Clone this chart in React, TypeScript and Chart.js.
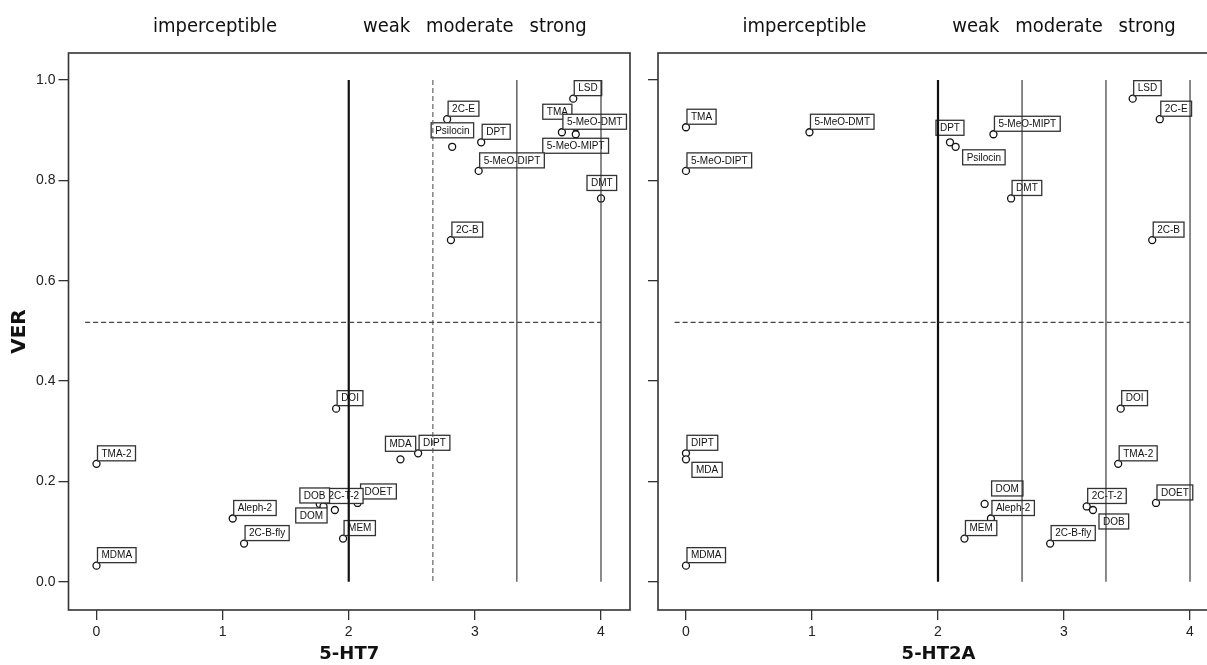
import React, { useEffect, useRef } from 'react';
import { Chart, registerables } from 'chart.js';

Chart.register(...registerables);

// ---- data ----
const COMPOUNDS = ['LSD', '2C-E', 'TMA', '5-MeO-DMT', '5-MeO-MIPT', 'DPT', 'Psilocin', '5-MeO-DIPT', 'DMT', '2C-B', 'DOI', 'DIPT', 'MDA', 'TMA-2', 'DOET', 'DOM', '2C-T-2', 'DOB', 'Aleph-2', 'MEM', '2C-B-fly', 'MDMA'];
const VER = [0.963, 0.922, 0.906, 0.896, 0.892, 0.876, 0.867, 0.819, 0.764, 0.681, 0.345, 0.256, 0.244, 0.235, 0.157, 0.155, 0.150, 0.143, 0.126, 0.086, 0.076, 0.032];
const HT7 = [3.78, 2.78, 3.80, 3.69, 3.80, 3.05, 2.82, 3.03, 4.00, 2.81, 1.90, 2.55, 2.41, 0, 2.07, 1.77, 1.80, 1.89, 1.08, 1.955, 1.17, 0];
const HT2A = [3.545, 3.76, 0, 0.98, 2.44, 2.095, 2.14, 0, 2.58, 3.70, 3.45, 0, 0, 3.43, 3.73, 2.37, 3.18, 3.23, 2.42, 2.21, 2.89, 0];

const X_TICKS = [0, 1, 2, 3, 4];
const Y_TICKS = [0, 0.2, 0.4, 0.6, 0.8, 1.0];
const THRESHOLDS = [2, 2.667, 3.333, 4];
const VER_CUTOFF = 0.517;
const CATEGORIES = ['imperceptible', 'weak', 'moderate', 'strong'];
const CATEGORY_CENTERS = [0.94, 2.30, 2.96, 3.66];

// label box placement (box left, box top) relative to point, in px
const DEFAULT_OFFSET: [number, number] = [1, -18];
const OFFSETS_HT7: Record<string, [number, number]> = {
  'Psilocin': [-21, -24],
  'DMT': [-14, -23],
  '5-MeO-MIPT': [-33, 4],
  'TMA': [-33, -23],
  'MDA': [-15, -23],
  'DOB': [-35, -22],
  'DOM': [-24, 4],
  'DOET': [3, -19],
};
const OFFSETS_HT2A: Record<string, [number, number]> = {
  'DPT': [-14, -22],
  'Psilocin': [7, 3],
  'MDA': [6, 3],
  'DOB': [6, 4],
  'DOM': [7, -23],
};

const SANS = '"Liberation Sans", Arial, sans-serif';
const DEJA = '"DejaVu Sans", Verdana, sans-serif';

function makeOverlay(xs: number[], offsets: Record<string, [number, number]>, dashedSecond: boolean) {
  return {
    id: 'overlay',
    afterDatasetsDraw(chart: any) {
      const { ctx, chartArea, scales } = chart;
      const x = scales.x, y = scales.y;
      ctx.save();
      // label boxes
      ctx.font = `10px ${SANS}`;
      ctx.textBaseline = 'middle';
      ctx.textAlign = 'left';
      COMPOUNDS.forEach((name, i) => {
        const px = x.getPixelForValue(xs[i]);
        const py = y.getPixelForValue(VER[i]);
        const off = offsets[name] || DEFAULT_OFFSET;
        const w = ctx.measureText(name).width + 8;
        const h = 15;
        const bx = px + off[0], by = py + off[1];
        ctx.fillStyle = '#ffffff';
        ctx.fillRect(bx, by, w, h);
        ctx.strokeStyle = '#333333';
        ctx.lineWidth = 1.3;
        ctx.strokeRect(bx, by, w, h);
        ctx.fillStyle = '#111111';
        ctx.fillText(name, bx + 4, by + h / 2 + 0.5);
      });
      // reference lines
      const y0 = y.getPixelForValue(0), y1 = y.getPixelForValue(1);
      THRESHOLDS.forEach((t, i) => {
        const px = x.getPixelForValue(t);
        const dashed = i === 1 && dashedSecond;
        ctx.beginPath();
        ctx.strokeStyle = i === 0 ? '#111111' : (dashed ? '#555555' : '#2a2a2a');
        ctx.lineWidth = i === 0 ? 2.2 : 1.1;
        ctx.setLineDash(dashed ? [5, 3] : []);
        ctx.moveTo(px, y1);
        ctx.lineTo(px, y0);
        ctx.stroke();
      });
      const hy = y.getPixelForValue(VER_CUTOFF);
      ctx.beginPath();
      ctx.strokeStyle = '#444444';
      ctx.lineWidth = 1.1;
      ctx.setLineDash([5, 3]);
      ctx.moveTo(x.getPixelForValue(-0.09), hy);
      ctx.lineTo(x.getPixelForValue(4.0), hy);
      ctx.stroke();
      ctx.setLineDash([]);
      // frame
      ctx.strokeStyle = '#333333';
      ctx.lineWidth = 1.6;
      ctx.strokeRect(chartArea.left, chartArea.top, chartArea.right - chartArea.left, chartArea.bottom - chartArea.top);
      // category labels
      ctx.fillStyle = '#111111';
      ctx.font = `20px "DejaVu Sans Condensed", ${DEJA}`;
      try { (ctx as any).fontStretch = 'condensed'; } catch (e) { /* ignore */ }
      ctx.textAlign = 'center';
      ctx.textBaseline = 'alphabetic';
      CATEGORIES.forEach((c, i) => {
        ctx.fillText(c, x.getPixelForValue(CATEGORY_CENTERS[i]), 31.5);
      });
      ctx.restore();
    },
  };
}

function buildConfig(xs: number[], title: string, offsets: Record<string, [number, number]>, dashedSecond: boolean, showYLabels: boolean, yWidth: number, rightPad: number): any {
  return {
    type: 'scatter',
    data: {
      datasets: [{
        data: xs.map((v, i) => ({ x: v, y: VER[i] })),
        pointRadius: 3.5,
        pointBorderWidth: 1.3,
        pointBorderColor: '#111111',
        pointBackgroundColor: '#ffffff',
        pointHoverRadius: 3.5,
        showLine: false,
      }],
    },
    options: {
      responsive: false,
      animation: false,
      events: [],
      layout: { padding: { left: 0, right: rightPad, top: 53, bottom: 0 } },
      plugins: { legend: { display: false }, tooltip: { enabled: false } },
      scales: {
        x: {
          type: 'linear',
          min: -0.222,
          max: 4.23,
          afterFit: (s: any) => { s.height = 55; },
          afterBuildTicks: (s: any) => { s.ticks = X_TICKS.map(v => ({ value: v })); },
          grid: { drawOnChartArea: false, drawTicks: true, tickLength: 10, color: '#333333', lineWidth: 1.3 },
          border: { display: false },
          ticks: { font: { size: 14, family: SANS }, color: '#222222', padding: 4, maxRotation: 0, callback: (v: any) => String(v) },
          title: { display: true, text: title, font: { size: 18, weight: 'bold', family: DEJA }, color: '#111111', padding: { top: 0, bottom: 0 } },
        },
        y: {
          type: 'linear',
          min: -0.0564,
          max: 1.054,
          afterFit: (s: any) => { s.width = yWidth; },
          afterBuildTicks: (s: any) => { s.ticks = Y_TICKS.map(v => ({ value: v })); },
          grid: { drawOnChartArea: false, drawTicks: true, tickLength: 10, color: '#333333', lineWidth: 1.3 },
          border: { display: false },
          ticks: {
            font: { size: 14, family: SANS }, color: '#222222', padding: 3,
            callback: (v: any) => (showYLabels ? Number(v).toFixed(1) : ''),
          },
          title: { display: showYLabels, text: 'VER', font: { size: 20, weight: 'bold', family: DEJA }, color: '#111111', padding: { top: 8, bottom: 0 } },
        },
      },
    },
    plugins: [makeOverlay(xs, offsets, dashedSecond)],
  };
}

export default function App() {
  const leftRef = useRef<HTMLCanvasElement | null>(null);
  const rightRef = useRef<HTMLCanvasElement | null>(null);

  useEffect(() => {
    const c1 = new Chart(leftRef.current as HTMLCanvasElement, buildConfig(HT7, '5-HT7', OFFSETS_HT7, true, true, 68.5, 10));
    const c2 = new Chart(rightRef.current as HTMLCanvasElement, buildConfig(HT2A, '5-HT2A', OFFSETS_HT2A, false, false, 18, 21));
    return () => { c1.destroy(); c2.destroy(); };
  }, []);

  return (
    <div style={{ position: 'absolute', left: 0, top: 0, width: 1207, height: 665, overflow: 'hidden', background: '#ffffff' }}>
      <canvas ref={leftRef} width={640} height={665} style={{ position: 'absolute', left: 0, top: 0, width: 640, height: 665 }} />
      <canvas ref={rightRef} width={600} height={665} style={{ position: 'absolute', left: 640, top: 0, width: 600, height: 665 }} />
    </div>
  );
}
